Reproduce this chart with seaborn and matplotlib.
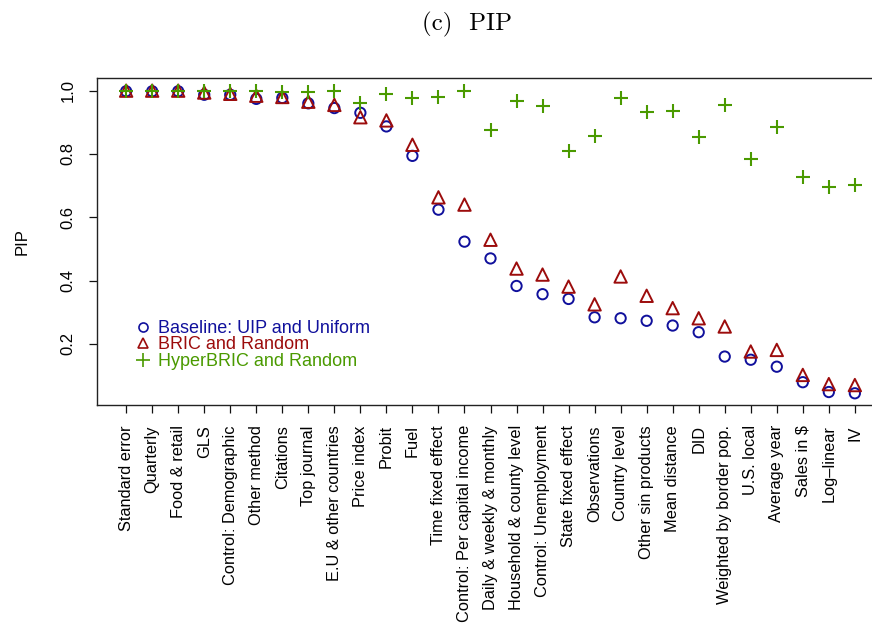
import numpy as np
import pandas as pd
import matplotlib
matplotlib.use("Agg")
import matplotlib.pyplot as plt
import seaborn as sns
from matplotlib.lines import Line2D

categories = [
    "Standard error", "Quarterly", "Food & retail", "GLS", "Control: Demographic",
    "Other method", "Citations", "Top journal", "E.U & other countries", "Price index",
    "Probit", "Fuel", "Time fixed effect", "Control: Per capital income",
    "Daily & weekly & monthly", "Household & county level", "Control: Unemployment",
    "State fixed effect", "Observations", "Country level", "Other sin products",
    "Mean distance", "DID", "Weighted by border pop.", "U.S. local", "Average year",
    "Sales in $", "Log\u2013linear", "IV",
]
baseline = [0.998, 0.998, 0.998, 0.987, 0.987, 0.974, 0.977, 0.960, 0.945, 0.930,
            0.887, 0.794, 0.624, 0.523, 0.470, 0.383, 0.357, 0.342, 0.284, 0.281,
            0.273, 0.258, 0.237, 0.160, 0.150, 0.128, 0.079, 0.048, 0.044]
bric = [1.000, 1.000, 1.000, 0.994, 0.990, 0.984, 0.980, 0.965, 0.955, 0.916,
        0.906, 0.829, 0.663, 0.640, 0.529, 0.438, 0.419, 0.381, 0.325, 0.413,
        0.352, 0.313, 0.281, 0.255, 0.176, 0.181, 0.102, 0.073, 0.070]
hyper = [1.000, 1.000, 1.000, 1.000, 1.000, 1.000, 0.995, 0.997, 1.000, 0.962,
         0.990, 0.977, 0.980, 0.998, 0.877, 0.966, 0.953, 0.808, 0.856, 0.977,
         0.933, 0.935, 0.853, 0.956, 0.784, 0.885, 0.727, 0.695, 0.703]
yticks = [0.2, 0.4, 0.6, 0.8, 1.0]
ytick_labels = ["0.2", "0.4", "0.6", "0.8", "1.0"]
legend_labels = ["Baseline: UIP and Uniform", "BRIC and Random", "HyperBRIC and Random"]

BLUE = "#10109c"
RED = "#9c0c0c"
GREEN = "#4a9a00"

sns.set_theme(style="white")
plt.rcParams["font.family"] = ["Liberation Sans", "DejaVu Sans"]
plt.rcParams["text.color"] = "black"
plt.rcParams["axes.labelcolor"] = "black"
plt.rcParams["xtick.color"] = "black"
plt.rcParams["ytick.color"] = "black"

df = pd.DataFrame({
    "idx": np.arange(1, len(categories) + 1),
    "baseline": baseline,
    "bric": bric,
    "hyper": hyper,
})

fig = plt.figure(figsize=(8.72, 6.24), dpi=100)
ax = fig.add_axes([97 / 872, 1 - 405 / 624, 787 / 872, (405 - 78.3) / 624])

sns.scatterplot(data=df, x="idx", y="hyper", marker="+", s=105, color=GREEN,
                linewidth=1.5, ax=ax, zorder=3)
sns.scatterplot(data=df, x="idx", y="bric", marker="^", s=80, color=RED,
                facecolor="none", edgecolor=RED, linewidth=1.4, ax=ax, zorder=2)
sns.scatterplot(data=df, x="idx", y="baseline", marker="o", s=55, color=BLUE,
                facecolor="none", edgecolor=BLUE, linewidth=1.4, ax=ax, zorder=1)

ax.set_xlim(-0.12, 30.12)
ax.set_ylim(0.007, 1.039)
ax.set_xticks(df["idx"])
ax.set_xticklabels(categories, rotation=90, fontsize=11.8)
ax.set_yticks(yticks)
ax.set_yticklabels(ytick_labels, rotation=90, va="center", fontsize=12)
ax.tick_params(axis="both", direction="out", length=6, width=0.9, color="#111111",
               bottom=True, left=True)
ax.tick_params(axis="x", pad=8.5)
ax.tick_params(axis="y", pad=9.5)
ax.set_xlabel("")
ax.set_ylabel("PIP", fontsize=12)
ax.yaxis.set_label_coords(-0.085, 0.5)
for side in ["left", "bottom", "top", "right"]:
    ax.spines[side].set_visible(True)
    ax.spines[side].set_color("#222222")
    ax.spines[side].set_linewidth(1.0)

handles = [
    Line2D([], [], ls="none", marker="o", mfc="none", mec=BLUE, ms=6.5, mew=1.2),
    Line2D([], [], ls="none", marker="^", mfc="none", mec=RED, ms=7.5, mew=1.2),
    Line2D([], [], ls="none", marker="+", color=GREEN, ms=10, mew=1.2),
]
ax.legend(handles, legend_labels, loc="center left", bbox_to_anchor=(0.047, 0.184),
          frameon=False, fontsize=13, labelcolor=[BLUE, RED, GREEN],
          handlelength=1.0, handletextpad=0.33, labelspacing=-0.03,
          borderpad=0, borderaxespad=0)

fig.text(466.5 / 872, 1 - 24 / 624, "(c)  PIP", family="cmr10", fontsize=18,
         ha="center", va="center")

fig.savefig("out.png", dpi=100)
